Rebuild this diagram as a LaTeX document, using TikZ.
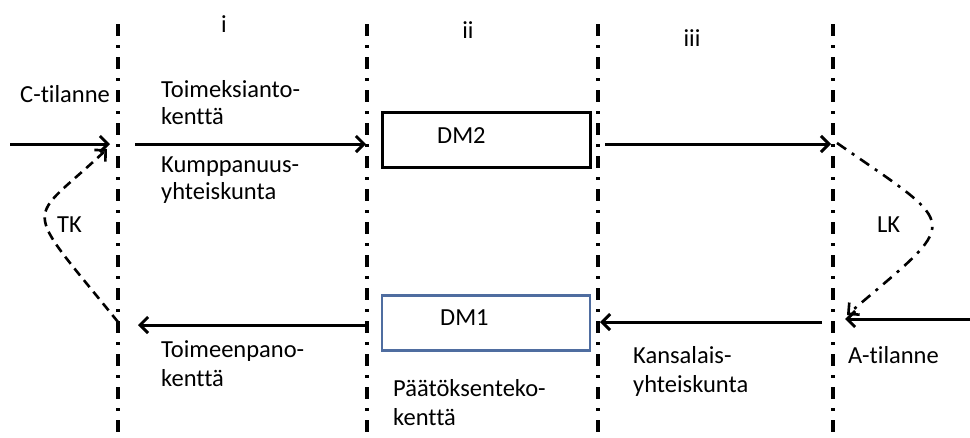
\documentclass[tikz,border=0pt]{standalone}
\usepackage{fontspec}
\setmainfont[Ligatures=NoCommon]{Carlito}
\usetikzlibrary{arrows.meta}
\definecolor{dmblue}{RGB}{79,109,160}
\begin{document}
\begin{tikzpicture}[x=1pt,y=-1pt,
  lbl/.style={anchor=base west,inner sep=0pt,font=\fontsize{24.5}{29}\selectfont},
  lblc/.style={anchor=base,inner sep=0pt,font=\fontsize{24.5}{29}\selectfont},
  divider/.style={line width=3.5pt,dash pattern=on 12pt off 9pt on 3pt off 9pt},
  flow/.style={line width=3pt,-{Straight Barb[length=8pt,width=16pt]}},
  tkline/.style={line width=2.6pt,dash pattern=on 9pt off 6pt,-{Straight Barb[length=8pt,width=16pt]}},
  lkline/.style={line width=2.6pt,dash pattern=on 11pt off 7pt on 3pt off 7pt,-{Straight Barb[length=8pt,width=16pt]}},
  dmbox/.style={draw,line width=3pt,minimum width=208pt,minimum height=55pt,inner sep=0pt},
]
\useasboundingbox (0,0) rectangle (970,437);
\fill[white] (0,0) rectangle (970,437);

% dividers
\coordinate (v1t) at (118,24); \coordinate (v1b) at (118,437);
\coordinate (v2t) at (367,24); \coordinate (v2b) at (367,437);
\coordinate (v3t) at (598,24); \coordinate (v3b) at (598,437);
\coordinate (v4t) at (833,24); \coordinate (v4b) at (833,437);
\draw[divider] (v1t) -- (v1b);
\draw[divider] (v2t) -- (v2b);
\draw[divider] (v3t) -- (v3b);
\draw[divider] (v4t) -- (v4b);

% column labels
\node[lblc] (ci) at (224,32) {i};
\node[lblc] (cii) at (468,38) {ii};
\node[lblc] (ciii) at (692,46) {iii};

% boxes
\node[dmbox,draw=black] (dm2) at (486,140) {};
\node[dmbox,draw=dmblue,line width=2.6pt] (dm1) at (486,323) {};
\node[lbl] (dm2t) at (437,143) {DM2};
\node[lbl] (dm1t) at (440,325) {DM1};

% top arrows
\coordinate (a1s) at (10,144);  \coordinate (a1e) at (110,144);
\coordinate (a2s) at (135,144); \coordinate (a2e) at (366,144);
\coordinate (a3s) at (605,144); \coordinate (a3e) at (831,144);
\draw[flow] (a1s) -- (a1e);
\draw[flow] (a2s) -- (a2e);
\draw[flow] (a3s) -- (a3e);

% bottom arrows
\coordinate (b1s) at (970,319); \coordinate (b1e) at (845,319);
\coordinate (b2s) at (822,322); \coordinate (b2e) at (600,322);
\coordinate (b3s) at (365,325); \coordinate (b3e) at (138,325);
\draw[flow] (b1s) -- (b1e);
\draw[flow] (b2s) -- (b2e);
\draw[flow] (b3s) -- (b3e);

% TK and LK loops
\coordinate (tks) at (118,322); \coordinate (tke) at (107,149);
\draw[tkline] (tks) .. controls (18.8,199.1) and (26.2,225.4) .. (tke);
\coordinate (lks) at (837,143); \coordinate (lke) at (847,315);
\draw[lkline] (lks) .. controls (962.5,230.2) and (961.5,217.1) .. (lke);
\node[lbl] (tk) at (57,232) {TK};
\node[lbl] (lk) at (877,232) {LK};

% texts
\node[lbl] (ctil) at (20,102) {C-tilanne};
\node[lbl] (tm1) at (161,97) {Toimeksianto-};
\node[lbl] (tm2) at (161,124) {kenttä};
\node[lbl] (ku1) at (161,172) {Kumppanuus-};
\node[lbl] (ku2) at (161,199) {yhteiskunta};
\node[lbl] (tp1) at (161,357) {Toimeenpano-};
\node[lbl] (tp2) at (161,386) {kenttä};
\node[lbl] (pk1) at (393,396) {Päätöksenteko-};
\node[lbl] (pk2) at (393,425) {kenttä};
\node[lbl] (ka1) at (633,363) {Kansalais-};
\node[lbl] (ka2) at (633,392) {yhteiskunta};
\node[lbl] (atil) at (848,363) {A-tilanne};
\end{tikzpicture}
\end{document}
